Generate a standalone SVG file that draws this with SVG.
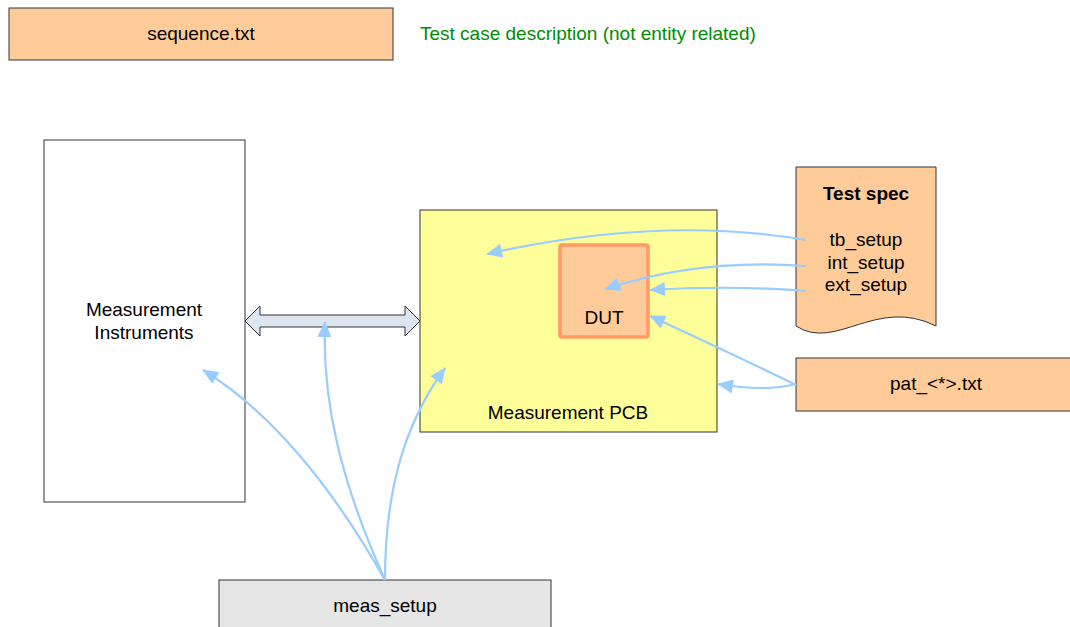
<svg xmlns="http://www.w3.org/2000/svg" width="1070" height="627" viewBox="0 0 1070 627">
  <style>
    text { font-family: "Liberation Sans", Arial, sans-serif; font-size: 19px; fill: #000; text-anchor: middle; }
    .box { stroke: #333; stroke-width: 1; }
    .file { fill: #ffcc99; }
    .conn { fill: none; stroke: #99ccff; stroke-width: 2.2; marker-end: url(#arrow); }
  </style>
  <defs>
    <marker id="arrow" markerUnits="userSpaceOnUse" markerWidth="18" markerHeight="14" refX="16" refY="7" orient="auto">
      <path d="M1,0 L17,7 L1,14 Z" fill="#99ccff"/>
    </marker>
  </defs>
  <rect width="1070" height="627" fill="#fff"/>

  <g id="sequence">
    <rect class="box file" x="9" y="8" width="384" height="52"/>
    <text x="201" y="40">sequence.txt</text>
  </g>
  <text id="note" x="420" y="40" style="text-anchor:start; fill:#008c00">Test case description (not entity related)</text>

  <g id="instruments">
    <rect class="box" x="44" y="140" width="201" height="362" fill="#fff"/>
    <text x="144" y="316">Measurement</text>
    <text x="144" y="339">Instruments</text>
  </g>

  <g id="pcb">
    <rect class="box" x="420" y="210" width="297" height="222" fill="#ffff99"/>
    <text x="568" y="419">Measurement PCB</text>
  </g>

  <g id="dut">
    <rect x="560" y="245" width="88" height="92" rx="2" fill="#ffcc99" stroke="#ff9966" stroke-width="3.5"/>
    <text x="604" y="324">DUT</text>
  </g>

  <g id="testspec">
    <path class="box file" d="M796,167 L936,167 L936,326 C876,296 836,352 796,326 Z"/>
    <text x="866" y="200" style="font-weight:bold">Test spec</text>
    <text x="866" y="246">tb_setup</text>
    <text x="866" y="269">int_setup</text>
    <text x="866" y="291">ext_setup</text>
  </g>

  <g id="pattern">
    <rect class="box file" x="796" y="358" width="280" height="53"/>
    <text x="936" y="390">pat_&lt;*&gt;.txt</text>
  </g>

  <g id="meas_setup">
    <rect class="box" x="219" y="580" width="332" height="60" fill="#e6e6e6"/>
    <text x="385" y="612">meas_setup</text>
  </g>

  <g id="connectors">
    <!-- bus between instruments and PCB -->
    <path d="M245,321 L260,306 L260,315 L405,315 L405,306 L420,321 L405,336 L405,327 L260,327 L260,336 Z" fill="#dde6f0" stroke="#333" stroke-width="1"/>
    <path class="conn" d="M806,240 Q660,215 487,254"/>
    <path class="conn" d="M806,266 Q700,258 605,289"/>
    <path class="conn" d="M806,291 Q730,285 650,290"/>
    <path class="conn" d="M796,385 Q720,348 650,316"/>
    <path class="conn" d="M796,384 Q765,392 718,384"/>
    <path class="conn" d="M385,580 Q300,430 203,370"/>
    <path class="conn" d="M385,580 C340,480 322,400 325,322"/>
    <path class="conn" d="M385,580 C385,500 400,430 445,368"/>
  </g>
</svg>
